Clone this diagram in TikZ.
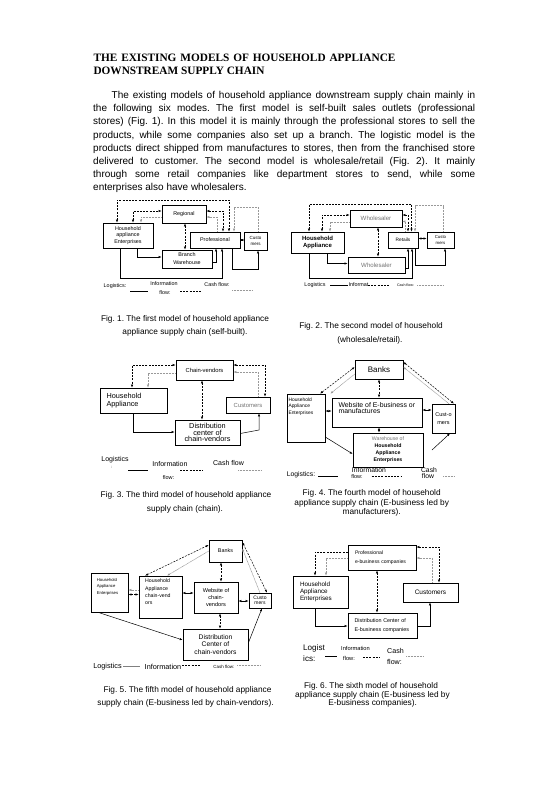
\documentclass[tikz,border=0pt]{standalone}
\usepackage{fontspec}
\setmainfont{Liberation Serif}
\newfontfamily\arial{Liberation Sans}
\usetikzlibrary{arrows.meta}
\frenchspacing
\newcommand\Bx[7][]{\node[bx,minimum width={(#5-#3)*1pt},minimum height={(#6-#4)*1pt},#1] (#2) at ({(#3+#5)/2},{(#4+#6)/2}) {#7};}
\begin{document}
\begin{tikzpicture}[x=1pt,y=-1pt,
  >={Latex[length=3pt,width=2.2pt]},
  f/.style 2 args={font=\arial\fontsize{#1}{#2}\selectfont},
  fb/.style 2 args={font=\arial\bfseries\fontsize{#1}{#2}\selectfont},
  bx/.style={draw,line width=.6pt,inner sep=0pt,align=center},
  tn/.style={inner sep=0pt},
  lg/.style={line width=.5pt},
  dsh/.style={line width=.5pt,dash pattern=on 2pt off 1.2pt},
  csh/.style={line width=.5pt,black!40,dash pattern=on 1pt off .5pt},
  capt/.style={inner sep=0pt,font=\arial\fontsize{8.3}{10}\selectfont,text height=6pt,text depth=1.7pt},
  partx/.style={inner sep=0pt,anchor=west,font=\arial\fontsize{10}{12}\selectfont,text height=7.2pt,text depth=2.1pt},
  ttl/.style={inner sep=0pt,anchor=west,font=\bfseries\fontsize{11.3}{13}\selectfont,text height=7.6pt,text depth=0pt}]
\fill[white] (0,0) rectangle (555,785);
\useasboundingbox (0,0) rectangle (555,785);

% ---------- title and paragraph
\node[ttl] (ti1) at (93.3,57.7) {\makebox[302pt][s]{THE EXISTING MODELS OF HOUSEHOLD APPLIANCE}};
\node[ttl] (ti2) at (93.3,70.5) {DOWNSTREAM SUPPLY CHAIN};
\node[partx] (p1) at (111.5,96) {\makebox[363.5pt][s]{The existing models of household appliance downstream supply chain mainly in}};
\node[partx] (p2) at (93,109.2) {\makebox[382pt][s]{the following six modes. The first model is self-built sales outlets (professional}};
\node[partx] (p3) at (93,122.4) {\makebox[382pt][s]{stores) (Fig. 1). In this model it is mainly through the professional stores to sell the}};
\node[partx] (p4) at (93,135.6) {\makebox[382pt][s]{products, while some companies also set up a branch. The logistic model is the}};
\node[partx] (p5) at (93,148.8) {\makebox[382pt][s]{products direct shipped from manufactures to stores, then from the franchised store}};
\node[partx] (p6) at (93,162) {\makebox[382pt][s]{delivered to customer. The second model is wholesale/retail (Fig. 2). It mainly}};
\node[partx] (p7) at (93,175.2) {\makebox[382pt][s]{through some retail companies like department stores to send, while some}};
\node[partx] (p8) at (93,188) {enterprises also have wholesalers.};

% ---------- Fig 1
\Bx[f={5.4}{6.5}]{reg}{162}{205}{206}{223}{Regional}
\Bx[f={5.4}{6.6}]{hh1}{103}{223}{153}{248}{Household\\appliance\\Enterprises}
\Bx[f={5.4}{6.5}]{pro1}{190}{232}{240}{248}{Professional}
\Bx[f={4.5}{6.6}]{cus1}{244}{232}{267}{250}{Custo\\mers}
\Bx[f={5.4}{8}]{br1}{162}{250}{212}{268}{Branch\\Warehouse}
\draw[dsh,<->] (hh1.north -| 117,0) -- (117,200) -- (229,200) -- (pro1.north -| 229,0);
\draw[dsh,<->] (hh1.north -| 133,0) |- (reg.west |- 0,211);
\draw[csh,->] (reg.west |- 0,217) -| (hh1.north -| 141,0);
\draw[dsh,<->] (reg.east |- 0,211) -| (pro1.north -| 223,0);
\draw[csh,->] (pro1.north -| 217,0) |- (reg.east |- 0,217);
\draw[csh,->] (cus1.north -| 258,0) |- (234,207) -- (pro1.north -| 234,0);
\draw[dsh,<->] (reg.south -| 185,0) -- (br1.north -| 185,0);
\draw[lg,->] (hh1.south -| 137,0) |- (br1.west |- 0,257);
\draw[lg,->] (hh1.south -| 120,0) |- (222,278) -- (pro1.south -| 222,0);
\draw[lg,->] (br1.east |- 0,262) -| (pro1.south -| 216,0);
\draw[lg,<->] (pro1.east |- 0,240) -- (cus1.west |- 0,240);
\draw[lg,->] (pro1.south -| 232,0) |- (258,269) -- (cus1.south -| 258,0);
\node[tn,f={5.4}{6}] (l1a) at (115,286) {Logistics:};
\draw[lg] (130,291) -- (148,291);
\node[tn,f={5.4}{6}] (l1b) at (164,284) {Information};
\node[tn,f={5.4}{6}] (l1c) at (165,292.5) {flow:};
\draw[dsh] (180,291.5) -- (202,291.5);
\node[tn,f={5.4}{6}] (l1d) at (217,285) {Cash flow:};
\draw[csh] (232,290.5) -- (253,290.5);
\node[capt] (c1a) at (185,319.3) {Fig. 1. The first model of household appliance};
\node[capt] (c1b) at (185,332.7) {appliance supply chain (self-built).};

% ---------- Fig 2
\Bx[f={6.1}{7},text=black!55]{wh1}{350}{210}{402}{227}{Wholesaler}
\Bx[fb={6}{7.4}]{ha2}{291}{232}{344}{253}{Household\\Appliance}
\Bx[f={4.8}{6}]{ret2}{388}{232}{418}{248}{Retails}
\Bx[f={4.3}{6}]{cus2}{427}{232}{454}{248}{Custo\\mers}
\Bx[f={6.1}{7},text=black!55]{wh2}{348}{257}{405}{273}{Wholesaler}
\draw[dsh,<->] (ha2.north -| 309,0) -- (309,204) -- (411.5,204) -- (ret2.north -| 411.5,0);
\draw[dsh,<->] (ha2.north -| 322,0) |- (wh1.west |- 0,215);
\draw[csh,->] (wh1.west |- 0,222) -| (ha2.north -| 330,0);
\draw[dsh,<->] (wh1.east |- 0,215) -| (ret2.north -| 408,0);
\draw[csh,->] (ret2.north -| 405,0) |- (wh1.east |- 0,221.5);
\draw[csh,->] (cus2.north -| 443,0) |- (415,205.5) -- (ret2.north -| 415,0);
\draw[dsh,<->] (wh1.south -| 378,0) -- (wh2.north -| 378,0);
\draw[lg,->] (ha2.south -| 327,0) |- (wh2.west |- 0,263.5);
\draw[lg,->] (ha2.south -| 309,0) |- (412,278) -- (ret2.south -| 412,0);
\draw[lg,->] (wh2.east |- 0,268) -| (ret2.south -| 408,0);
\draw[lg,<->] (ret2.east |- 0,238.5) -- (cus2.west |- 0,238.5);
\draw[lg,->] (ret2.south -| 415.5,0) |- (445,265) -- (cus2.south -| 445,0);
\node[tn,f={5.4}{6}] (l2a) at (315,285) {Logistics};
\draw[lg] (330,285.7) -- (348,285.7);
\node[tn,f={5.4}{6}] (l2b) at (358.5,285) {Informat};
\draw[dsh] (368,285.5) -- (390,285.5);
\node[tn,f={3.6}{4}] (l2c) at (405.5,285) {Cash flow:};
\draw[csh] (417,285.5) -- (443,285.5);
\node[capt] (c2a) at (371,326.7) {Fig. 2. The second model of household};
\node[capt] (c2b) at (370,340.7) {(wholesale/retail).};

% ---------- Fig 3
\Bx[f={5.8}{7}]{cv3}{176}{360}{233}{380}{Chain-vendors}
\Bx[f={7.3}{8.4},align=left,text width=54pt]{ha3}{100}{388}{167}{413}{Household\\Appliance}
\Bx[f={5.9}{7},text=black!55]{cus3}{226}{397}{270}{413}{Customers}
\Bx[f={7.3}{6.8}]{dc3}{175}{420}{240}{445}{Distribution\\center of\\chain-vendors}
\draw[dsh,<->] (cv3.west |- 0,365) -| (ha3.north -| 132,0);
\draw[csh,->] (cv3.west |- 0,373) -| (ha3.north -| 148,0);
\draw[dsh,<->] (cv3.east |- 0,365) -| (cus3.north -| 265,0);
\draw[csh,->] (cus3.north -| 258,0) |- (cv3.east |- 0,372);
\draw[dsh,<->] (cv3.south -| 202,0) -- (dc3.north -| 202,0);
\draw[lg,->] (ha3.south -| 133,0) |- (dc3.west |- 0,432);
\draw[lg,->] (dc3.east |- 0,433.5) -- (259,430) -- (cus3.south -| 259,0);
\node[tn,f={7}{8}] (l3a) at (115,460) {Logistics};
\node[tn,f={4}{4}] (l3b) at (111.5,467) {:};
\draw[lg] (128,470) -- (148,470);
\node[tn,f={7}{8}] (l3c) at (170,464.3) {Information};
\node[tn,f={5.5}{6}] (l3d) at (168.5,477.3) {flow:};
\draw[dsh] (180,470) -- (203,470);
\node[tn,f={7}{8}] (l3e) at (228.5,463.3) {Cash flow};
\draw[csh] (238,470) -- (262,470);
\node[capt] (c3a) at (186,495.7) {Fig. 3. The third model of household appliance};
\node[capt] (c3b) at (185,509.3) {supply chain (chain).};

% ---------- Fig 4
\Bx[f={8}{9}]{bk4}{355}{360}{403}{379}{Banks}
\Bx{ha4}{287}{394}{325}{442}{}
\node[tn,f={4.9}{6.7},align=left,anchor=north west] (ha4t) at (288.3,397.5) {Household\\Appliance\\Enterprises};
\Bx{web4}{332}{398}{422}{427}{}
\node[tn,f={6.9}{6.3},align=left,anchor=north west] (web4t) at (338.3,402) {Website of E-business or\\manufactures};
\Bx[f={5.5}{8.7}]{cus4}{432}{404}{455}{433}{Cust-o\\mers}
\Bx[f={5.2}{7}]{wh4}{353}{433}{423}{467}{\textcolor{black!55}{Warehouse of}\\\textbf{Household}\\\textbf{Appliance}\\\textbf{Enterprises}}
\draw[dsh,<->] (ha4.north -| 320,0) -- (bk4.west |- 0,367);
\draw[csh,->] (bk4.west |- 0,374) -- ([xshift=5pt]ha4.north east);
\draw[dsh,<->] (bk4.east |- 0,362) -- (cus4.north -| 454,0);
\draw[csh,->] (cus4.north -| 449,0) -- (bk4.east |- 0,367);
\draw[dsh,<->] (bk4.south -| 379,0) -- (web4.north -| 379,0);
\draw[lg,<->] (ha4.east |- 0,411) -- (web4.west |- 0,411);
\draw[lg,<->] (web4.east |- 0,410) -- (cus4.west |- 0,410);
\draw[dsh,<->] (web4.south -| 379,0) -- (wh4.north -| 379,0);
\draw[lg,->] (ha4.east |- 0,437) -- (wh4.west |- 0,454);
\coordinate (f4) at (432,450);
\draw[lg,->] (f4) -- (cus4.south -| 450,0);
\node[tn,f={6.8}{7}] (l4a) at (301,475) {Logistics:};
\draw[lg] (318,476) -- (338,476);
\node[tn,f={6.8}{7}] (l4b) at (369,470) {Information};
\node[tn,f={5.5}{6}] (l4c) at (357,476.5) {flow:};
\draw[dsh] (371.7,476) -- (401.7,476);
\node[tn,f={6.8}{7}] (l4d) at (429,470) {Cash};
\node[tn,f={6.8}{7}] (l4e) at (428,476.5) {flow};
\draw[csh] (443,476) -- (455,476);
\node[capt] (c4a) at (371.7,493.3) {Fig. 4. The fourth model of household};
\node[capt] (c4b) at (371.7,503.3) {appliance supply chain (E-business led by};
\node[capt] (c4c) at (371.7,512.7) {manufacturers).};

% ---------- Fig 5
\Bx[f={5.4}{6}]{bk5}{209}{540}{242}{562}{Banks}
\Bx{ha5}{91}{573}{128}{612}{}
\node[tn,f={4.2}{6.6},align=left,anchor=north west] (ha5t) at (96.7,578) {Household\\Appliance\\Enterprises};
\Bx{hc5}{139}{576}{182}{618}{}
\node[tn,f={5.2}{7.2},align=left,anchor=north west] (hc5t) at (145,579) {Household\\Appliance\\chain-vend\\ors};
\Bx[f={5.6}{7}]{web5}{194}{582}{238}{613}{Website of\\chain-\\vendors}
\Bx[f={5}{4.8}]{cus5}{249}{593}{271}{608}{Custo\\mers}
\Bx[f={6.7}{7.7}]{dc5}{183}{629}{248}{660}{Distribution\\Center of\\chain-vendors}
\draw[dsh,<->] (hc5.north -| 145,0) -- (bk5.west |- 0,545);
\draw[csh,->] (bk5.west |- 0,551) -- (hc5.north -| 167,0);
\draw[dsh,<->] (bk5.east |- 0,542) -- (cus5.north -| 267,0);
\draw[csh,->] (cus5.north -| 260,0) -- (bk5.east |- 0,548.5);
\draw[dsh,<->] (bk5.south -| 221,0) -- (web5.north -| 221,0);
\draw[csh,->] (hc5.west |- 0,590) -- (ha5.east |- 0,590);
\draw[dsh,<->] (ha5.east |- 0,594.5) -- (hc5.west |- 0,594.5);
\draw[lg,<->] (hc5.east |- 0,593) -- (web5.west |- 0,593);
\draw[lg,<->] (web5.east |- 0,601) -- (cus5.west |- 0,601);
\draw[dsh,<->] (web5.south -| 220,0) -- (dc5.north -| 220,0);
\draw[lg,->] (ha5.south -| 98,0) -- (dc5.west |- 0,640);
\draw[lg,->] (dc5.east |- 0,643) -- (cus5.south -| 262,0);
\node[tn,f={7.3}{8}] (l5a) at (107.5,667) {Logistics};
\draw[lg,black!50] (123,666) -- (140,666);
\node[tn,f={7.3}{8}] (l5b) at (163,667) {Information};
\draw[dsh] (182,665.5) -- (200,665.5);
\node[tn,f={4.5}{5}] (l5c) at (224,667) {Cash flow:};
\draw[csh] (237,665.5) -- (260,665.5);
\node[capt] (c5a) at (187.5,690) {Fig. 5. The fifth model of household appliance};
\node[capt] (c5b) at (185.5,703.3) {supply chain (E-business led by chain-vendors).};

% ---------- Fig 6
\Bx[f={5.1}{8.4},align=left,text width=54pt]{pe6}{348}{545}{416}{570}{Professional\\e-business companies}
\Bx[f={6.3}{7},align=left,text width=41pt]{ha6}{293}{576}{348}{608}{Household\\Appliance\\Enterprises}
\Bx[f={6.5}{7}]{cus6}{403}{583}{458}{602}{Customers}
\Bx[f={5.4}{8.6},align=left,text width=56pt]{dc6}{348}{613}{417}{638}{Distribution Center of\\E-business companies}
\draw[dsh,->] (pe6.west |- 0,552) -| (ha6.north -| 315,0);
\draw[csh,->] (pe6.west |- 0,558) -| (ha6.north -| 326,0);
\draw[dsh,<->] (pe6.east |- 0,547) -| (cus6.north -| 439,0);
\draw[csh,->] (cus6.north -| 432,0) |- (pe6.east |- 0,558);
\draw[dsh,<->] (pe6.south -| 377,0) -- (dc6.north -| 377,0);
\draw[lg,->] (ha6.south -| 315,0) |- (dc6.west |- 0,626);
\draw[lg,->] (dc6.east |- 0,626) -| (cus6.south -| 430,0);
\node[tn,f={8.1}{9},anchor=west] (l6a) at (303,648.3) {Logist};
\node[tn,f={8.1}{9},anchor=west] (l6b) at (303,658.3) {ics:};
\draw[lg] (325,656.7) -- (337,656.7);
\node[tn,f={5.7}{6},anchor=west] (l6c) at (341,648.3) {Information};
\node[tn,f={5.7}{6},anchor=west] (l6d) at (343,658.3) {flow:};
\draw[dsh] (363,657) -- (380,657);
\node[tn,f={7.1}{8},anchor=west] (l6e) at (387,650.7) {Cash};
\node[tn,f={7.1}{8},anchor=west] (l6f) at (387,661.7) {flow:};
\draw[csh] (406,656.7) -- (423,656.7);
\node[capt] (c6a) at (371,686.7) {Fig. 6. The sixth model of household};
\node[capt] (c6b) at (372.5,695) {appliance supply chain (E-business led by};
\node[capt] (c6c) at (372.7,703.3) {E-business companies).};
\end{tikzpicture}
\end{document}
